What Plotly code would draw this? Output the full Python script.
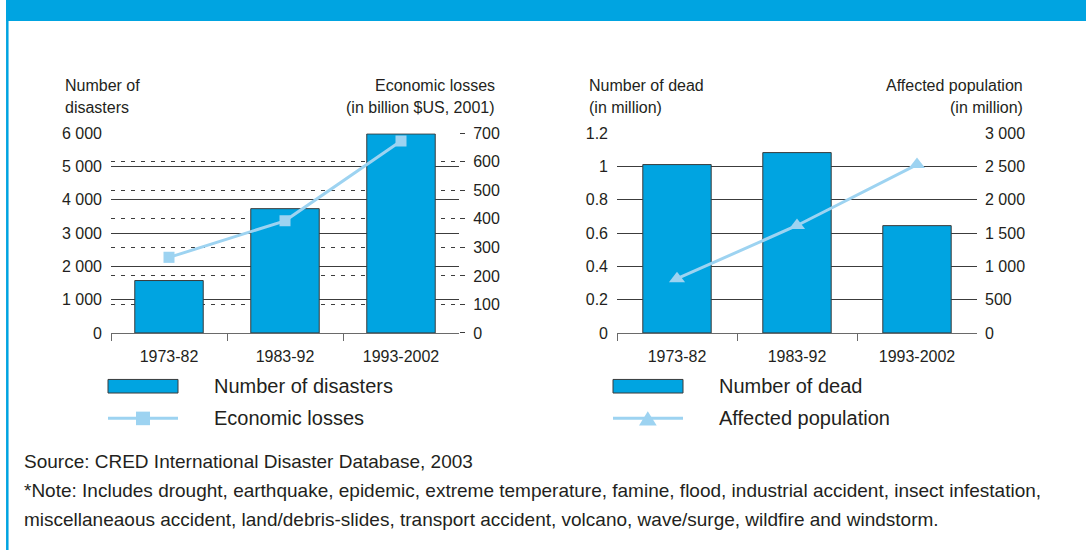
import plotly.graph_objects as go

# ---------------- data ----------------
periods = ["1973-82", "1983-92", "1993-2002"]
disasters = [1575, 3735, 5980]
econ_losses = [265, 393, 673]
dead_million = [1.012, 1.084, 0.645]
affected_million = [815, 1615, 2530]

disaster_tickvals = [0, 1000, 2000, 3000, 4000, 5000, 6000]
disaster_ticktext = ["0", "1 000", "2 000", "3 000", "4 000", "5 000", "6 000"]
econ_tickvals = [0, 100, 200, 300, 400, 500, 600, 700]
econ_ticktext = ["0", "100", "200", "300", "400", "500", "600", "700"]
dead_tickvals = [0, 0.2, 0.4, 0.6, 0.8, 1.0, 1.2]
dead_ticktext = ["0", "0.2", "0.4", "0.6", "0.8", "1", "1.2"]
affected_tickvals = [0, 500, 1000, 1500, 2000, 2500, 3000]
affected_ticktext = ["0", "500", "1 000", "1 500", "2 000", "2 500", "3 000"]

# ---------------- style ----------------
W, H = 1086, 550
BLUE = "#00a4e1"
LIGHT = "#9dd3f1"
GRID = "#3c3c3c"
AXIS = "#6a6a6a"
TXT = "#231f20"
FONT = "Liberation Sans, Arial, sans-serif"


def px(x):
    return x / W


def py(y):
    return 1 - y / H


fig = go.Figure()

fig.add_trace(go.Bar(
    x=periods, y=disasters, xaxis="x", yaxis="y", width=0.59,
    marker=dict(color=BLUE, line=dict(color="#3a3a3a", width=1)),
    name="Number of disasters", showlegend=False))
fig.add_trace(go.Scatter(
    x=periods, y=econ_losses, xaxis="x", yaxis="y2", mode="lines+markers",
    line=dict(color=LIGHT, width=3),
    marker=dict(symbol="square", size=11, color=LIGHT),
    name="Economic losses", showlegend=False))
fig.add_trace(go.Bar(
    x=periods, y=dead_million, xaxis="x2", yaxis="y3", width=0.57,
    marker=dict(color=BLUE, line=dict(color="#3a3a3a", width=1)),
    name="Number of dead", showlegend=False))
fig.add_trace(go.Scatter(
    x=periods, y=affected_million, xaxis="x2", yaxis="y4", mode="lines+markers",
    line=dict(color=LIGHT, width=3),
    marker=dict(symbol="triangle-up", size=14, color=LIGHT),
    name="Affected population", showlegend=False))

ydom = [py(335.3), py(129.3)]
xcommon = dict(type="category", range=[-0.5, 2.5], tickson="boundaries",
               ticks="outside", ticklen=7, tickcolor=AXIS, tickwidth=1,
               showline=True, linecolor=AXIS, linewidth=1, showgrid=False,
               zeroline=False, tickfont=dict(size=16, color=TXT, family=FONT),
               ticklabelstandoff=9, fixedrange=True)
ycommon = dict(zeroline=False, showline=False,
               tickfont=dict(size=16, color=TXT, family=FONT), fixedrange=True)

fig.update_layout(
    width=W, height=H, margin=dict(l=0, r=0, t=0, b=0),
    paper_bgcolor="white", plot_bgcolor="rgba(0,0,0,0)",
    font=dict(family=FONT, color=TXT), showlegend=False,
    xaxis=dict(domain=[px(111), px(459)], anchor="y", **xcommon),
    yaxis=dict(domain=ydom, anchor="x", range=[0, 6000],
               tickvals=disaster_tickvals, ticktext=disaster_ticktext,
               showgrid=True, gridcolor=GRID, gridwidth=1, ticks="",
               ticklabelstandoff=8, **ycommon),
    yaxis2=dict(overlaying="y", side="right", anchor="x", range=[0, 700],
                tickvals=econ_tickvals, ticktext=econ_ticktext,
                showgrid=True, gridcolor=GRID, gridwidth=1, griddash="4px,6px",
                ticks="outside", ticklen=5, tickcolor=GRID,
                ticklabelstandoff=5, **ycommon),
    xaxis2=dict(domain=[px(617), px(977)], anchor="y3", **xcommon),
    yaxis3=dict(domain=ydom, anchor="x2", range=[0, 1.2],
                tickvals=dead_tickvals, ticktext=dead_ticktext,
                showgrid=True, gridcolor=GRID, gridwidth=1, ticks="",
                ticklabelstandoff=8, **ycommon),
    yaxis4=dict(overlaying="y3", side="right", anchor="x2", range=[0, 3000],
                tickvals=affected_tickvals, ticktext=affected_ticktext,
                showgrid=False, ticks="", ticklabelstandoff=7, **ycommon),
)

shapes = []
# header band and frame line
shapes.append(dict(type="rect", xref="paper", yref="paper", x0=px(6), x1=1.01,
                   y0=py(13.4), y1=1.02, fillcolor=BLUE, line=dict(width=0), layer="above"))
shapes.append(dict(type="line", xref="paper", yref="paper", x0=px(7.3), x1=px(7.3),
                   y0=-0.02, y1=py(13), line=dict(color=BLUE, width=2.5)))

# custom legends
for x0 in (108, 613):
    shapes.append(dict(type="rect", xref="paper", yref="paper",
                       x0=px(x0), x1=px(x0 + 70), y0=py(397.3), y1=py(383.3),
                       fillcolor=BLUE, line=dict(color="#3a3a3a", width=1)))
    shapes.append(dict(type="line", xref="paper", yref="paper",
                       x0=px(x0), x1=px(x0 + 70), y0=py(423.3), y1=py(423.3),
                       line=dict(color=LIGHT, width=3)))
shapes.append(dict(type="rect", xref="paper", yref="paper",
                   x0=px(136), x1=px(150), y0=py(430.5), y1=py(416.5),
                   fillcolor=LIGHT, line=dict(width=0)))
shapes.append(dict(type="path", xref="paper", yref="paper",
                   path=f"M {px(639)} {py(430.7)} L {px(656.7)} {py(430.7)} L {px(647.8)} {py(416)} Z",
                   fillcolor=LIGHT, line=dict(width=0)))
fig.update_layout(shapes=shapes)

ann = []


def text(x, y, s, size, xanchor="left"):
    ann.append(dict(xref="paper", yref="paper", x=px(x), y=py(y), text=s,
                    showarrow=False, xanchor=xanchor, yanchor="middle",
                    font=dict(size=size, color=TXT, family=FONT)))


# axis titles
text(63.3, 80, "Number of", 16)
text(63.3, 102.3, "disasters", 16)
text(497, 80, "Economic losses", 16, "right")
text(497, 102.3, "(in billion $US, 2001)", 16, "right")
text(586.7, 80, "Number of dead", 16)
text(586.7, 102.3, "(in million)", 16)
text(1024.5, 80, "Affected population", 16, "right")
text(1024.5, 102.3, "(in million)", 16, "right")

# legend labels
text(212, 390.5, "Number of disasters", 20)
text(212, 423.5, "Economic losses", 20)
text(716.7, 390.5, "Number of dead", 20)
text(716.7, 423.5, "Affected population", 20)

# source / note
text(21.7, 468.3, "Source: CRED International Disaster Database, 2003", 19)
text(21.7, 498.3, "*Note: Includes drought, earthquake, epidemic, extreme temperature, famine, flood, industrial accident, insect infestation,", 19)
text(21.7, 528.3, "miscellaneaous accident, land/debris-slides, transport accident, volcano, wave/surge, wildfire and windstorm.", 19)

fig.update_layout(annotations=ann)

fig.write_html(
    "out.html",
    config={"displayModeBar": False},
    post_script=("document.documentElement.style.margin='0';"
                 "document.body.style.margin='0';document.body.style.padding='0';"
                 "document.body.style.overflow='hidden';"))
